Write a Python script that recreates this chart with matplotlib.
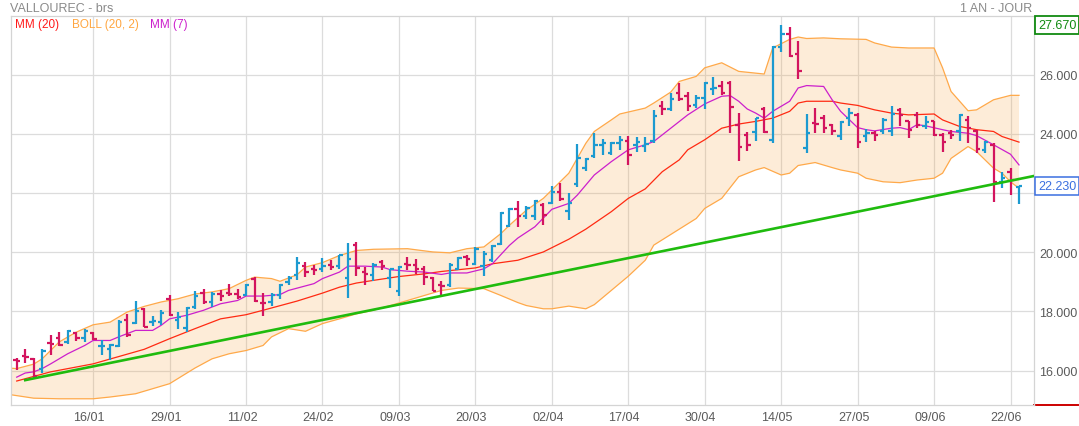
import numpy as np
import matplotlib
matplotlib.use('Agg')
import matplotlib.pyplot as plt
from matplotlib import transforms

plt.rcParams['font.family'] = ['Liberation Sans', 'DejaVu Sans']

# cours journaliers VALLOUREC (ouverture, plus haut, plus bas, cloture)
opens = [16.35, 16.49, 16.40, 16.07, 16.93, 17.10, 16.97, 17.28, 17.10, 17.28,
         16.83, 16.74, 16.82, 17.70, 17.61, 18.07, 17.66, 17.64, 18.43, 17.70,
         17.45, 18.15, 18.63, 18.32, 18.58, 18.63, 18.60, 18.57, 19.11, 18.30,
         18.32, 18.54, 18.99, 19.22, 19.52, 19.44, 19.44, 19.58, 19.52, 19.13,
         20.23, 19.33, 19.22, 19.67, 19.13, 18.68, 19.61, 19.58, 19.44, 19.13,
         18.91, 18.88, 19.44, 19.84, 19.61, 19.52, 19.73, 20.29, 20.89, 21.45,
         21.23, 21.23, 21.59, 21.67, 22.05, 21.39, 22.30, 22.86, 23.25, 23.63,
         23.34, 23.68, 23.76, 23.63, 23.59, 23.76, 24.93, 24.85, 25.38, 25.27,
         24.96, 25.21, 25.51, 25.60, 25.72, 24.31, 23.97, 24.05, 24.85, 23.80,
         26.94, 27.36, 26.68, 23.51, 24.36, 24.53, 24.31, 23.91, 24.55, 24.62,
         23.91, 24.02, 24.10, 24.08, 24.81, 24.42, 24.64, 24.25, 24.42, 23.97,
         24.02, 24.08, 24.47, 24.08, 23.46, 23.63, 22.38, 22.72, 22.21]
highs = [16.43, 16.74, 16.43, 16.74, 17.19, 17.30, 17.37, 17.30, 17.42, 17.30,
         17.02, 16.91, 17.70, 17.92, 18.35, 18.11, 17.84, 18.04, 18.57, 17.98,
         18.15, 18.70, 18.75, 18.66, 18.71, 18.93, 18.77, 18.93, 19.16, 18.63,
         18.63, 18.93, 19.20, 19.84, 19.67, 19.56, 19.82, 19.75, 19.92, 20.32,
         20.34, 19.50, 19.64, 19.73, 19.44, 19.52, 19.84, 19.76, 19.53, 19.18,
         19.02, 19.65, 19.84, 19.92, 20.18, 20.03, 20.25, 21.36, 21.49, 21.72,
         21.56, 21.76, 21.65, 22.24, 22.33, 21.99, 23.65, 23.17, 24.02, 23.83,
         23.74, 23.93, 23.91, 23.89, 23.89, 24.81, 25.10, 25.38, 25.72, 25.41,
         25.30, 25.75, 25.91, 25.80, 25.77, 24.70, 24.05, 24.55, 24.89, 26.96,
         27.67, 27.60, 27.13, 24.67, 24.87, 24.62, 24.33, 24.44, 24.87, 24.70,
         24.16, 24.08, 24.53, 24.93, 24.87, 24.44, 24.73, 24.59, 24.44, 24.02,
         24.14, 24.67, 24.59, 24.14, 23.76, 23.68, 22.70, 22.84, 22.24]
lows = [16.03, 16.27, 15.75, 15.92, 16.52, 16.83, 16.90, 16.99, 16.97, 17.02,
        16.52, 16.37, 16.80, 17.14, 17.56, 17.47, 17.50, 17.55, 17.83, 17.42,
        17.30, 18.09, 18.26, 18.15, 18.34, 18.51, 18.41, 18.52, 18.32, 17.83,
        18.20, 18.41, 18.88, 19.05, 19.18, 19.22, 19.33, 19.41, 19.44, 18.46,
        19.20, 18.88, 19.02, 19.39, 18.79, 18.52, 19.39, 19.27, 18.88, 18.68,
        18.54, 18.82, 19.41, 19.53, 19.58, 19.20, 19.67, 20.25, 20.85, 20.85,
        21.11, 21.08, 20.92, 21.63, 21.73, 21.08, 22.21, 22.75, 23.20, 23.27,
        23.27, 23.46, 22.95, 23.40, 23.40, 23.68, 24.64, 24.76, 25.12, 24.78,
        24.87, 24.85, 25.32, 25.30, 24.02, 23.08, 23.42, 23.76, 24.02, 23.68,
        26.76, 26.59, 25.85, 23.34, 24.02, 24.02, 23.97, 23.80, 24.25, 23.51,
        23.71, 23.76, 23.99, 23.91, 24.28, 23.85, 24.19, 24.17, 23.91, 23.40,
        23.83, 23.76, 23.68, 23.34, 23.34, 21.71, 22.18, 21.95, 21.63]
closes = [16.31, 16.46, 15.82, 16.68, 16.91, 16.88, 17.33, 17.10, 17.33, 17.08,
          16.84, 16.85, 17.66, 17.19, 18.00, 17.47, 17.67, 17.96, 17.89, 17.81,
          18.11, 18.52, 18.32, 18.58, 18.52, 18.58, 18.49, 18.90, 18.36, 18.28,
          18.57, 18.88, 19.13, 19.65, 19.33, 19.41, 19.53, 19.50, 19.89, 19.76,
          19.47, 19.27, 19.56, 19.52, 19.42, 19.51, 19.56, 19.44, 19.16, 18.70,
          18.86, 19.58, 19.82, 19.78, 20.12, 19.95, 20.21, 21.34, 21.45, 21.22,
          21.50, 21.73, 21.25, 22.02, 21.79, 21.65, 23.17, 23.15, 23.63, 23.68,
          23.68, 23.80, 23.29, 23.74, 23.65, 24.59, 24.85, 25.19, 25.19, 24.93,
          25.21, 25.71, 25.55, 25.38, 24.89, 23.57, 23.63, 24.53, 24.05, 26.94,
          27.36, 26.62, 26.11, 24.02, 24.33, 24.21, 24.08, 24.40, 24.70, 23.74,
          24.02, 23.97, 24.47, 24.67, 24.64, 24.14, 24.31, 24.40, 23.97, 23.72,
          23.97, 24.62, 24.19, 23.49, 23.72, 22.38, 22.52, 22.44, 22.23]

# dates affichees sous l'axe (index de la seance)
date_labels = ['16/01', '29/01', '11/02', '24/02', '09/03', '20/03', '02/04',
               '17/04', '30/04', '14/05', '27/05', '09/06', '22/06']
date_pos = [9, 18, 27, 36, 45, 54, 63, 72, 81, 90, 99, 108, 117]

# MM (20)
mm20_idx = [0, 4, 9, 15, 18, 21, 24, 27, 29, 33, 36, 38, 40, 42, 45, 48, 50, 54, 56, 59,
            62, 65, 67, 70, 72, 74, 76, 78, 79, 81, 83, 85, 87, 89, 91, 92, 93, 96, 97, 99,
            101, 103, 105, 108, 109, 111, 113, 115, 116, 118]
mm20_val = [15.65, 15.96, 16.23, 16.72, 17.08, 17.42, 17.75, 17.89, 18.04, 18.35,
            18.62, 18.82, 18.96, 19.05, 19.18, 19.27, 19.35, 19.47, 19.61, 19.73,
            20.01, 20.44, 20.78, 21.37, 21.82, 22.14, 22.72, 23.12, 23.46, 23.80,
            24.19, 24.33, 24.42, 24.53, 24.76, 25.04, 25.10, 25.10, 25.04, 24.96,
            24.81, 24.70, 24.64, 24.67, 24.47, 24.25, 24.14, 24.08, 23.91, 23.72]

# MM (7)
mm7_idx = [0, 1, 2, 3, 4, 6, 8, 9, 11, 12, 14, 16, 17, 18, 20, 22, 24, 26, 27, 29,
           31, 32, 35, 36, 38, 39, 41, 43, 44, 46, 48, 50, 51, 53, 55, 56, 58, 59, 61, 63,
           65, 66, 68, 70, 72, 74, 75, 77, 79, 81, 83, 84, 85, 86, 87, 88, 89, 91, 92, 93,
           95, 96, 97, 99, 100, 101, 103, 104, 105, 106, 107, 109, 110, 112, 113, 115, 117, 118]
mm7_val = [15.78, 15.92, 15.96, 16.07, 16.23, 16.57, 16.85, 17.02, 17.02, 17.14,
           17.36, 17.36, 17.53, 17.75, 17.87, 18.04, 18.26, 18.37, 18.52, 18.52,
           18.57, 18.71, 18.94, 19.11, 19.33, 19.53, 19.53, 19.50, 19.41, 19.36,
           19.33, 19.25, 19.30, 19.30, 19.44, 19.61, 20.23, 20.48, 20.86, 21.45,
           21.65, 21.93, 22.61, 23.06, 23.46, 23.63, 23.74, 24.19, 24.64, 25.01,
           25.27, 25.29, 25.10, 24.84, 24.70, 24.53, 24.76, 25.10, 25.55, 25.63,
           25.60, 25.15, 24.76, 24.21, 24.14, 24.10, 24.19, 24.21, 24.14, 24.31,
           24.27, 24.14, 24.08, 24.02, 23.94, 23.63, 23.31, 22.95]

# BOLL (20, 2) bande haute / basse
up_idx = [-1, 0, 2, 3, 5, 7, 9, 11, 13, 15, 17, 19, 21, 23, 25, 27, 28, 30, 31, 33,
          34, 36, 38, 40, 42, 46, 49, 51, 53, 55, 57, 58, 60, 62, 65, 67, 68, 70, 71, 74,
          75, 77, 78, 80, 81, 83, 85, 86, 88, 89, 91, 92, 93, 95, 97, 100, 101, 103, 105, 108,
          109, 110, 112, 113, 115, 117, 118]
up_val = [16.09, 16.07, 16.22, 16.40, 16.97, 17.30, 17.55, 17.64, 17.98, 18.17,
          18.32, 18.43, 18.59, 18.66, 18.77, 19.05, 19.16, 19.11, 19.02, 19.24,
          19.50, 19.65, 19.89, 20.06, 20.10, 20.12, 20.01, 19.98, 20.12, 20.18,
          20.63, 20.91, 21.42, 21.82, 22.67, 23.68, 24.08, 24.47, 24.67, 24.87,
          25.04, 25.41, 25.77, 25.94, 26.23, 26.40, 26.11, 26.08, 26.02, 26.90,
          27.19, 27.27, 27.22, 27.24, 27.21, 27.19, 27.07, 26.93, 26.90, 26.90,
          26.23, 25.43, 24.78, 24.81, 25.15, 25.30, 25.30]
lo_idx = [-1, 2, 5, 9, 11, 14, 18, 21, 23, 25, 27, 29, 30, 32, 34, 36, 38, 40, 42, 44,
          48, 50, 52, 55, 57, 59, 60, 62, 63, 65, 67, 68, 70, 72, 74, 75, 77, 80, 81, 83,
          85, 87, 88, 90, 91, 92, 94, 96, 97, 99, 100, 102, 104, 106, 108, 109, 110, 112, 113, 115,
          116, 117, 118]
lo_val = [15.20, 15.07, 15.05, 15.05, 15.11, 15.22, 15.56, 16.09, 16.40, 16.57,
          16.68, 16.85, 17.14, 17.42, 17.33, 17.59, 17.75, 17.92, 18.04, 18.20,
          18.54, 18.71, 18.79, 18.77, 18.54, 18.30, 18.20, 18.09, 18.09, 18.18,
          18.09, 18.23, 18.71, 19.19, 19.73, 20.24, 20.60, 21.14, 21.48, 21.82,
          22.55, 22.78, 22.86, 22.61, 22.67, 22.93, 23.03, 22.86, 22.78, 22.67,
          22.50, 22.38, 22.35, 22.44, 22.50, 22.67, 23.17, 23.57, 23.40, 22.84,
          22.67, 22.38, 22.16]

# droite de tendance tracee
trend_idx = [1, 120]
trend_val = [15.68, 22.59]

last_price = 22.23
max_price = 27.67

BLUE = '#1c9ad0'
PINK = '#d3145e'

fig = plt.figure(figsize=(10.79, 4.27), dpi=100)
ax = fig.add_axes([10.7 / 1079, 21 / 427, 1023.6 / 1079, 388.7 / 427])

# bande de bollinger
poly_x = up_idx + lo_idx[::-1]
poly_y = up_val + lo_val[::-1]
ax.fill(poly_x, poly_y, color='#f7a340', alpha=0.2, lw=0, zorder=1)
ax.plot(up_idx, up_val, color='#ffa94a', lw=0.9, zorder=2)
ax.plot(lo_idx, lo_val, color='#ffa94a', lw=0.9, zorder=2)

ax.plot(mm20_idx, mm20_val, color='#ff2a12', lw=0.9, zorder=2)
ax.plot(mm7_idx, mm7_val, color='#cc1fcc', lw=0.9, zorder=2)

# barres OHLC
x = np.arange(len(closes))
o = np.array(opens)
c = np.array(closes)
cols = np.where(c >= o, BLUE, PINK)
ax.vlines(x, lows, highs, colors=cols, lw=1.6, zorder=3)
ax.hlines(o, x - 0.4, x, colors=cols, lw=1.6, zorder=3)
ax.hlines(c, x, x + 0.4, colors=cols, lw=1.6, zorder=3)

ax.plot(trend_idx, trend_val, color='#1fbb0e', lw=1.9, zorder=4)

ax.set_xlim(-0.706, 119.8)
ax.set_ylim(14.84, 27.97)

ax.set_xticks(date_pos)
ax.set_xticklabels(date_labels)
ax.set_yticks([16, 18, 20, 22, 24, 26])
ax.set_yticklabels(['16.000', '18.000', '20.000', '', '24.000', '26.000'])
ax.yaxis.tick_right()
ax.tick_params(axis='both', length=0, labelsize=9, labelcolor='#5a5a5a')
ax.tick_params(axis='x', pad=4)
ax.tick_params(axis='y', pad=3.5)
off = transforms.ScaledTranslation(-4 / 100, 0, fig.dpi_scale_trans)
for lab in ax.get_xticklabels():
    lab.set_transform(lab.get_transform() + off)

ax.grid(True, color='#dcdcdc', lw=0.9)
ax.set_axisbelow(True)
for s in ax.spines.values():
    s.set_color('#d4d4d4')
    s.set_linewidth(0.9)

# prix encadres a droite
tr = transforms.blended_transform_factory(ax.transAxes, ax.transData)
ax.text(1.0035, max_price, '27.670', transform=tr, va='center', ha='left', fontsize=9,
        color='#118a11', bbox=dict(boxstyle='square,pad=0.25', fc='white', ec='#118a11', lw=1.3))
ax.text(1.0035, last_price, '22.230', transform=tr, va='center', ha='left', fontsize=9,
        color='#3a6fe0', bbox=dict(boxstyle='square,pad=0.25', fc='white', ec='#3a6fe0', lw=1.1))
ax.plot([1.0, 1.043], [0, 0], transform=ax.transAxes, clip_on=False, color='#cc0000', lw=1.4)

fig.text(10 / 1079, 1 - 9 / 427, 'VALLOUREC - brs', va='center', ha='left', fontsize=9, color='#8a8a8a')
fig.text(1032 / 1079, 1 - 9 / 427, '1 AN - JOUR', va='center', ha='right', fontsize=9, color='#8a8a8a')
fig.text(15 / 1079, 1 - 25 / 427, 'MM (20)', va='center', ha='left', fontsize=8.5, color='#ff1a1a')
fig.text(72 / 1079, 1 - 25 / 427, 'BOLL (20, 2)', va='center', ha='left', fontsize=8.5, color='#ffa640')
fig.text(150 / 1079, 1 - 25 / 427, 'MM (7)', va='center', ha='left', fontsize=8.5, color='#cc1fcc')

fig.savefig('out.png', dpi=100)
